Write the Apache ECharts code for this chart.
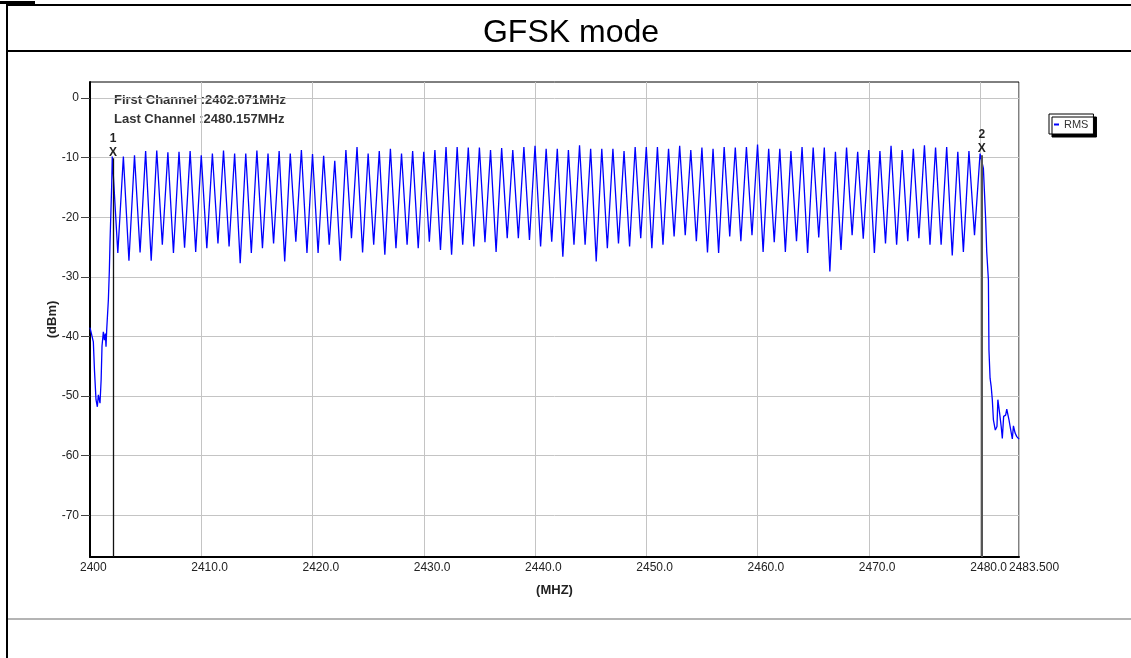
<!DOCTYPE html>
<html>
<head>
<meta charset="utf-8">
<title>GFSK mode</title>
<script src="https://cdn.jsdelivr.net/npm/echarts@6/dist/echarts.min.js"></script>
<style>
  html, body { margin: 0; padding: 0; background: #fff; }
  #chart { width: 1131px; height: 658px; }
</style>
</head>
<body>
<div id="chart"></div>
<script>
// hopping channels: one peak per MHz from 2402 to 2480
const firstChannel = 2402;
const peakDb = [
  -9.8, -9.8, -9.6, -8.9, -8.8, -9.1, -9.0, -8.9, -9.6, -9.3,
  -8.8, -9.3, -9.3, -8.8, -9.3, -8.9, -9.3, -8.7, -9.4, -9.7,
  -10.5, -8.7, -8.2, -9.3, -8.9, -8.5, -9.3, -8.9, -9.0, -8.7,
  -8.2, -8.2, -8.3, -8.3, -8.7, -8.4, -8.7, -8.2, -8.0, -8.5,
  -8.5, -8.7, -7.9, -8.5, -8.5, -8.5, -8.9, -8.2, -8.2, -8.2,
  -8.5, -8.0, -8.7, -8.3, -8.5, -8.2, -8.3, -8.2, -7.8, -8.5,
  -8.5, -8.9, -8.2, -8.3, -8.3, -9.0, -8.3, -9.0, -8.7, -8.9,
  -8.0, -8.7, -8.5, -7.9, -8.3, -8.2, -9.0, -8.9, -9.3
];
// dips half way between channels
const troughDb = [
  -26.0, -27.3, -25.9, -27.3, -24.6, -26.0, -25.1, -25.8, -25.2, -24.4,
  -24.9, -27.7, -26.0, -25.2, -24.4, -27.4, -24.1, -26.0, -26.0, -24.6,
  -27.3, -23.5, -25.9, -24.6, -26.3, -25.2, -24.6, -25.2, -24.1, -25.5,
  -26.3, -24.6, -24.9, -24.2, -25.8, -23.5, -23.5, -23.8, -24.9, -24.1,
  -26.6, -24.6, -24.6, -27.4, -25.2, -24.4, -24.9, -23.5, -25.2, -24.6,
  -23.2, -23.0, -24.0, -25.9, -26.0, -23.2, -24.0, -23.0, -25.8, -24.2,
  -25.8, -24.0, -26.0, -23.4, -29.1, -25.5, -23.0, -23.6, -26.0, -24.4,
  -24.6, -24.0, -23.5, -24.6, -24.6, -26.4, -25.8, -23.0
];
// band edges
const preFreq = [2400.0, 2400.15, 2400.3, 2400.4, 2400.54, 2400.66, 2400.75, 2400.9, 2401.0, 2401.08,
  2401.2, 2401.29, 2401.38, 2401.44, 2401.5, 2401.65, 2401.74, 2401.8, 2401.95];
const preDb = [-38.5, -38.6, -40.9, -45.6, -50.6, -51.8, -49.8, -51.2, -47.3, -41.6,
  -39.2, -40.6, -39.5, -41.7, -38.9, -33.9, -28.9, -24.1, -14.6];
const postFreq = [2480.3, 2480.5, 2480.6, 2480.75, 2480.8, 2480.9, 2481.0, 2481.1, 2481.2, 2481.37,
  2481.52, 2481.6, 2481.76, 2481.9, 2482.0, 2482.12, 2482.3, 2482.4, 2482.6, 2482.7,
  2482.9, 2483.0, 2483.15, 2483.3, 2483.5];
const postDb = [-11.8, -20.2, -25.8, -30.5, -42.3, -47.0, -48.4, -50.6, -54.0, -55.7,
  -55.1, -50.6, -52.9, -55.1, -57.1, -53.4, -53.2, -52.2, -54.0, -55.1,
  -57.2, -55.0, -56.2, -56.8, -57.2];

const markerNames = ['1', '2'];
const markerFreq = [2402.071, 2480.157];
const markerDb = [-9.15, -8.55];
const markerLineTop = [-10.1, -9.6];

const xMin = 2400, xMax = 2483.5;
const yMin = -77, yMax = 2.7;
const xTickValues = [2400, 2410, 2420, 2430, 2440, 2450, 2460, 2470, 2480.02, 2483.5];
const xTickLabels = ['2400', '2410.0', '2420.0', '2430.0', '2440.0', '2450.0', '2460.0', '2470.0', '2480.0', '2483.500'];
const yTickValues = [-70, -60, -50, -40, -30, -20, -10, 0];

const trace = [];
preFreq.forEach((f, i) => trace.push([f, preDb[i]]));
peakDb.forEach((p, i) => {
  trace.push([firstChannel + i, p]);
  if (i < troughDb.length) trace.push([firstChannel + i + 0.5, troughDb[i]]);
});
postFreq.forEach((f, i) => trace.push([f, postDb[i]]));

const font = "'Liberation Sans', Arial, sans-serif";
const chart = echarts.init(document.getElementById('chart'));

chart.setOption({
  animation: false,
  backgroundColor: '#fff',
  textStyle: { fontFamily: font },
  grid: {
    left: 90, top: 82, right: 112, bottom: 101,
    show: true, borderColor: '#000', borderWidth: 1, backgroundColor: 'transparent'
  },
  legend: {
    left: 1049, top: 114,
    data: ['RMS'],
    icon: 'rect', itemWidth: 5, itemHeight: 2, itemGap: 4,
    padding: [5, 5, 4, 5],
    backgroundColor: '#fff', borderColor: '#000', borderWidth: 1,
    shadowColor: '#000', shadowOffsetX: 3, shadowOffsetY: 3, shadowBlur: 0,
    textStyle: { fontSize: 11, color: '#333', fontFamily: font }
  },
  xAxis: {
    type: 'value', min: xMin, max: xMax,
    name: '(MHZ)', nameLocation: 'middle', nameGap: 27, nameMoveOverlap: false,
    nameTextStyle: { fontWeight: 'bold', fontSize: 13, color: '#222' },
    axisLine: { onZero: false, lineStyle: { color: '#000', width: 2 } },
    axisTick: { show: false, customValues: xTickValues },
    axisLabel: {
      customValues: xTickValues,
      formatter: v => xTickLabels[xTickValues.indexOf(v)],
      align: 'left', padding: [0, 0, 0, -10],
      margin: 5, fontSize: 12, color: '#222'
    },
    splitLine: { show: true, lineStyle: { color: '#c4c4c4', width: 1 } }
  },
  yAxis: {
    type: 'value', min: yMin, max: yMax,
    name: '(dBm)', nameLocation: 'middle', nameGap: 31, nameMoveOverlap: false,
    nameTextStyle: { fontWeight: 'bold', fontSize: 13, color: '#222' },
    axisLine: { onZero: false, lineStyle: { color: '#000', width: 2 } },
    axisTick: { show: true, length: 9, customValues: yTickValues, lineStyle: { color: '#444' } },
    axisLabel: { customValues: yTickValues, margin: 11, fontSize: 12, color: '#222' },
    splitLine: { show: true, lineStyle: { color: '#c4c4c4', width: 1 } }
  },
  graphic: [
    { type: 'rect', shape: { x: 0, y: 1, width: 35, height: 3 }, style: { fill: '#000' } },
    { type: 'line', shape: { x1: 6, y1: 5, x2: 1131, y2: 5 }, style: { stroke: '#000', lineWidth: 2 } },
    { type: 'line', shape: { x1: 7, y1: 4, x2: 7, y2: 658 }, style: { stroke: '#000', lineWidth: 2 } },
    { type: 'line', shape: { x1: 6, y1: 51, x2: 1131, y2: 51 }, style: { stroke: '#000', lineWidth: 2 } },
    { type: 'line', shape: { x1: 8, y1: 619, x2: 1131, y2: 619 }, style: { stroke: '#b4b4b4', lineWidth: 2 } },
    {
      type: 'text', x: 571, y: 33,
      style: { text: 'GFSK mode', font: '32px ' + font, fill: '#000', align: 'center', verticalAlign: 'middle' }
    },
    {
      type: 'text', x: 114, y: 100,
      style: { text: 'First Channel :2402.071MHz', font: 'bold 13px ' + font, fill: '#333', verticalAlign: 'middle' }
    },
    {
      type: 'text', x: 114, y: 119,
      style: { text: 'Last Channel :2480.157MHz', font: 'bold 13px ' + font, fill: '#333', verticalAlign: 'middle' }
    }
  ],
  series: [{
    name: 'RMS',
    type: 'line',
    data: trace,
    showSymbol: false,
    color: '#0000ff',
    lineStyle: { width: 1.3, color: '#0000ff' },
    markLine: {
      silent: true, symbol: 'none', animation: false,
      label: { show: false },
      data: [
        [{ coord: [markerFreq[0], yMin], lineStyle: { color: '#111', width: 1.3, type: 'solid' } },
         { coord: [markerFreq[0], markerLineTop[0]] }],
        [{ coord: [markerFreq[1], yMin], lineStyle: { color: '#555', width: 2, type: 'solid' } },
         { coord: [markerFreq[1], markerLineTop[1]] }]
      ]
    },
    markPoint: {
      silent: true, symbol: 'circle', symbolSize: 1,
      itemStyle: { color: 'rgba(0,0,0,0)' },
      label: {
        show: true, position: 'inside', offset: [0, -7],
        formatter: p => p.name + '\nX',
        fontWeight: 'bold', fontSize: 12, lineHeight: 14, color: '#222'
      },
      data: markerNames.map((n, i) => ({ name: n, coord: [markerFreq[i], markerDb[i]] }))
    }
  }]
});
</script>
</body>
</html>
